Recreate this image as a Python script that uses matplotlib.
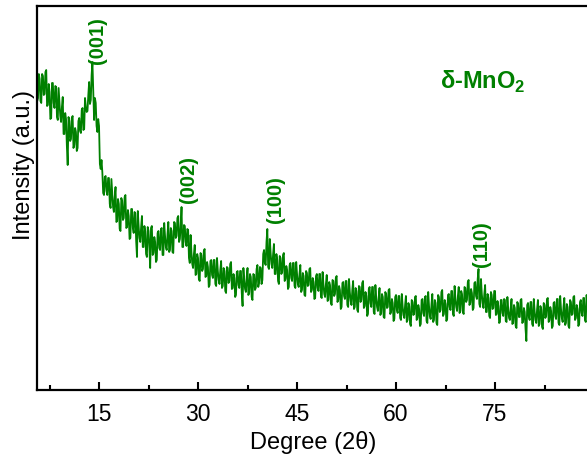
import numpy as np
import matplotlib.pyplot as plt

plt.rcParams['font.family'] = ['Liberation Sans', 'DejaVu Sans']
plt.rcParams['mathtext.fontset'] = 'custom'
plt.rcParams['mathtext.rm'] = 'Liberation Sans'
plt.rcParams['mathtext.bf'] = 'Liberation Sans:bold'

# XRD scan, 2theta from 5.5 deg, 0.125 deg steps:
# intensity holds the 0.25 deg grid, intensity_mid the points in between
start_2theta = 5.5
step_2theta = 0.125
intensity = [
    341, 292, 311, 287, 314, 296, 320, 285, 298, 272, 307, 282,   # 5.5 - 8.25
    303, 270, 287, 268, 293, 256, 271, 225, 269, 251, 274, 245,   # 8.5 - 11.25
    258, 242, 272, 257, 282, 261, 283, 279, 308, 290, 328, 270,   # 11.5 - 14.25
    287, 258, 264, 221, 218, 195, 214, 195, 212, 182, 196, 178,   # 14.5 - 17.25
    203, 169, 186, 159, 189, 172, 195, 163, 174, 152, 181, 157,   # 17.5 - 20.25
    177, 133, 164, 148, 174, 143, 159, 133, 159, 122, 164, 137,   # 20.5 - 23.25
    148, 130, 159, 140, 162, 135, 154, 140, 168, 140, 159, 137,   # 23.5 - 26.25
    167, 154, 174, 151, 183, 143, 164, 144, 160, 127, 138, 122,   # 26.5 - 29.25
    145, 116, 132, 109, 135, 121, 141, 114, 123, 105, 130, 112,   # 29.5 - 32.25
    130, 104, 119, 106, 129, 104, 119, 97, 122, 109, 128, 102,    # 32.5 - 35.25
    112, 95, 119, 102, 119, 84, 110, 98, 122, 97, 113, 90,        # 35.5 - 38.25
    115, 102, 125, 107, 122, 110, 140, 125, 161, 121, 137, 122,   # 38.5 - 41.25
    146, 116, 130, 106, 132, 118, 137, 111, 120, 103, 127, 109,   # 41.5 - 44.25
    127, 102, 116, 103, 125, 100, 114, 94, 117, 105, 122, 100,    # 44.5 - 47.25
    108, 92, 116, 99, 116, 92, 106, 93, 115, 90, 105, 85,         # 47.5 - 50.25
    109, 96, 114, 90, 100, 83, 108, 91, 109, 83, 98, 85,          # 50.5 - 53.25
    109, 83, 99, 78, 103, 90, 109, 84, 94, 76, 103, 83,           # 53.5 - 56.25
    103, 76, 92, 79, 102, 77, 93, 72, 96, 83, 101, 78,            # 56.5 - 59.25
    87, 71, 95, 77, 94, 70, 84, 72, 94, 70, 84, 64,               # 59.5 - 62.25
    88, 76, 94, 72, 81, 66, 91, 74, 94, 67, 84, 71,               # 62.5 - 65.25
    96, 70, 87, 65, 93, 80, 100, 76, 86, 71, 96, 80,              # 65.5 - 68.25
    99, 74, 91, 79, 103, 79, 96, 76, 102, 90, 110, 87,            # 68.5 - 71.25
    97, 82, 108, 91, 121, 83, 96, 82, 105, 78, 92, 72,            # 71.5 - 74.25
    95, 82, 99, 76, 84, 68, 90, 74, 90, 68, 81, 70,               # 74.5 - 77.25
    91, 67, 82, 62, 86, 73, 91, 68, 78, 49, 87, 70,               # 77.5 - 80.25
    88, 64, 79, 67, 90, 66, 81, 61, 85, 74, 92, 70,               # 80.5 - 83.25
    79, 64, 88, 71, 91, 65, 81, 68, 92, 67, 83, 62,               # 83.5 - 86.25
    88, 76, 94, 72, 81, 66, 90, 74, 92, 68, 83, 71,               # 86.5 - 89.25
]
intensity_mid = [
    289, 316, 289, 316, 295, 318, 284, 306, 271, 307, 287, 304,   # 5.625 - 8.375
    273, 302, 274, 283, 256, 277, 244, 273, 249, 272, 242, 262,
    239, 269, 259, 280, 260, 292, 278, 295, 286, 315, 300, 292,
    264, 271, 226, 230, 197, 213, 199, 212, 186, 211, 183, 193,
    168, 191, 161, 192, 170, 193, 162, 180, 151, 181, 162, 178,
    149, 179, 152, 163, 143, 164, 136, 163, 142, 162, 135, 153,
    128, 157, 142, 161, 135, 167, 143, 156, 138, 162, 138, 168,
    152, 172, 148, 165, 143, 165, 148, 161, 132, 155, 126, 136,
    115, 136, 111, 137, 119, 139, 113, 128, 103, 129, 115, 130,
    106, 132, 110, 120, 102, 122, 99, 123, 107, 126, 101, 116,
    93, 118, 105, 119, 97, 122, 101, 113, 95, 116, 93, 116,
    100, 121, 103, 123, 106, 136, 127, 148, 123, 151, 126, 136,
    116, 136, 109, 134, 116, 135, 109, 124, 101, 125, 112, 127,
    104, 128, 106, 116, 98, 117, 95, 119, 104, 121, 98, 112,
    91, 114, 102, 116, 93, 118, 96, 106, 89, 108, 87, 110,
    94, 112, 88, 104, 81, 107, 94, 109, 85, 111, 89, 100,
    81, 102, 80, 104, 88, 107, 82, 98, 74, 101, 87, 103,
    78, 105, 83, 93, 75, 96, 73, 98, 82, 100, 76, 91,
    69, 93, 80, 94, 72, 96, 75, 85, 68, 87, 66, 90,
    75, 93, 70, 85, 64, 90, 77, 93, 69, 98, 74, 86,
    68, 90, 67, 95, 78, 98, 74, 90, 69, 95, 83, 99,
    76, 104, 83, 94, 77, 99, 78, 103, 88, 108, 85, 101,
    80, 107, 94, 111, 86, 111, 87, 96, 78, 96, 74, 98,
    81, 99, 75, 89, 67, 90, 77, 91, 69, 93, 72, 82,
    66, 85, 64, 88, 73, 90, 67, 82, 61, 85, 73, 88,
    66, 91, 70, 81, 64, 84, 63, 87, 72, 91, 68, 83,
    62, 87, 74, 91, 67, 94, 72, 83, 65, 86, 64, 90,
    75, 93, 70, 85, 64, 88, 77, 92, 70, 95, 74, 85,               # 86.625 - 89.375
]

peak_labels = ['(001)', '(002)', '(100)', '(110)']
peak_pos = [14.7, 28.6, 41.8, 73.0]
peak_top = [327, 188, 168, 124]

x_ticks = [15, 30, 45, 60, 75]
green = '#008000'

# merge the two grids into one scan
counts = np.empty(len(intensity) + len(intensity_mid))
counts[0::2] = intensity
counts[1::2] = intensity_mid
two_theta = start_2theta + step_2theta * np.arange(len(counts))

fig = plt.figure(figsize=(5.87, 4.64), dpi=100)
ax = fig.add_axes([37 / 587, 73 / 464, 552 / 587, 384 / 464])
ax.plot(two_theta, counts, color=green, lw=1.3)

ax.set_xlim(5.6, 89.24)
ax.set_ylim(0, 384)
ax.set_xticks(x_ticks)
ax.set_xticks([7.5, 22.5, 37.5, 52.5, 67.5, 82.5], minor=True)
ax.set_yticks([])
ax.tick_params(axis='x', which='major', direction='in', length=6, width=1.5,
               labelsize=16.5, pad=9)
ax.tick_params(axis='x', which='minor', direction='in', length=3.5, width=1.5)
for s in ax.spines.values():
    s.set_linewidth(1.6)
ax.spines['right'].set_visible(False)

for lab, x, y in zip(peak_labels, peak_pos, peak_top):
    ax.text(x, y, lab, rotation=90, ha='center', va='bottom', color=green,
            fontsize=14.5, fontweight='bold')

fig.text(483 / 587, 1 - 82 / 464, 'δ-MnO$_\\mathbf{2}$', color=green,
         fontsize=17, fontweight='bold', ha='center', va='center')

fig.text(313 / 587, 1 - 443 / 464, 'Degree (2θ)', ha='center', va='center', fontsize=17)
fig.text(24 / 587, 1 - 165 / 464, 'Intensity (a.u.)', rotation=90, ha='center',
         va='center', fontsize=17)

fig.savefig('out.png', dpi=100)
